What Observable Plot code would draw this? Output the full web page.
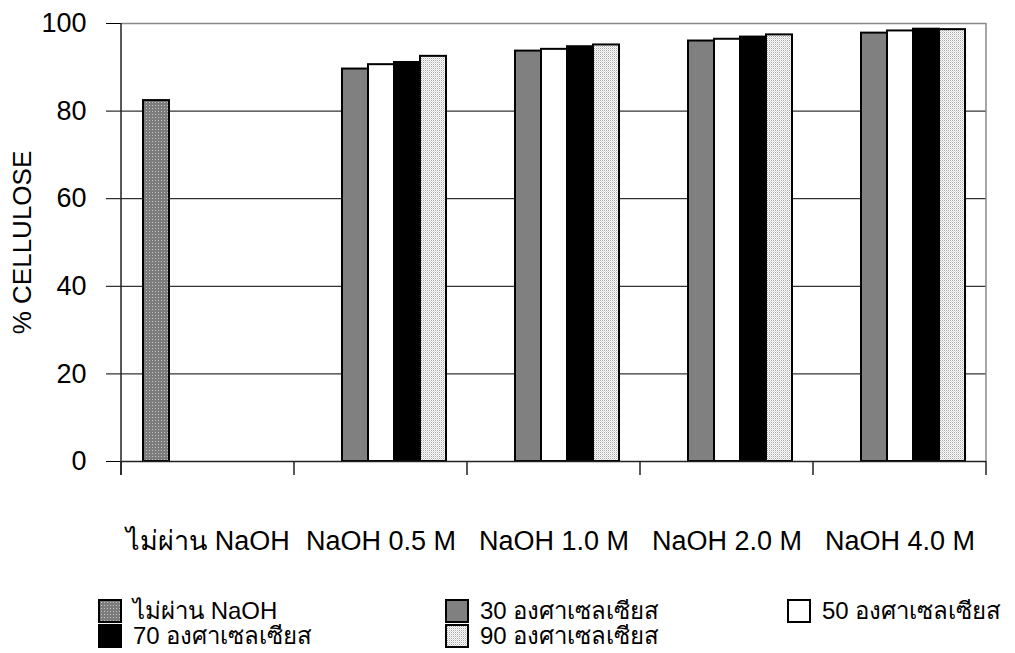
<!DOCTYPE html>
<html>
<head>
<meta charset="utf-8">
<script src="https://cdn.jsdelivr.net/npm/d3@7"></script>
<script src="https://cdn.jsdelivr.net/npm/@observablehq/plot@0.6"></script>
<style>
  body { margin: 0; background: #fff; font-family: "Liberation Sans", Arial, sans-serif; }
  #defs { position: absolute; width: 0; height: 0; }
  #legend {
    display: grid;
    grid-template-columns: 347px 342px auto;
    grid-auto-rows: 25px;
    padding-left: 98px;
    margin-top: 6px;
    font-size: 24px;
    color: #000;
  }
  .item { display: flex; align-items: center; white-space: nowrap; }
  .item svg { margin-right: 11px; flex: none; }
  g[aria-label="y-axis label"] text { font-size: 26px; }
</style>
</head>
<body>
<div id="chart"></div>
<div id="legend"></div>
<script>
// Treatment groups along the x axis
const categories = ["ไม่ผ่าน NaOH", "NaOH 0.5 M", "NaOH 1.0 M", "NaOH 2.0 M", "NaOH 4.0 M"];
// Series (untreated sample plus four treatment temperatures)
const series = ["ไม่ผ่าน NaOH", "30 องศาเซลเซียส", "50 องศาเซลเซียส", "70 องศาเซลเซียส", "90 องศาเซลเซียส"];
// % cellulose values
const untreated = [82.4];                    // untreated sample
const temp30 = [89.6, 93.7, 96.0, 97.8];     // NaOH 0.5, 1.0, 2.0, 4.0 M
const temp50 = [90.6, 94.1, 96.4, 98.3];
const temp70 = [91.1, 94.7, 96.9, 98.7];
const temp90 = [92.5, 95.1, 97.4, 98.6];
const yTicks = [0, 20, 40, 60, 80, 100];

// Fill for each series (patterns are defined below)
const seriesFill = ["url(#dots-dark)", "#808080", "#ffffff", "#000000", "url(#dots-light)"];
const fillOf = new Map(series.map((s, i) => [s, seriesFill[i]]));

// Long-format table for the bar mark
const rows = [{category: categories[0], series: series[0], value: untreated[0]}];
[temp30, temp50, temp70, temp90].forEach((vals, s) =>
  vals.forEach((v, i) => rows.push({category: categories[i + 1], series: series[s + 1], value: v}))
);

// Shared fill patterns
const defsSvg = d3.select("body").insert("svg", ":first-child").attr("id", "defs").attr("width", 0).attr("height", 0);
const defs = defsSvg.append("defs");
const pDark = defs.append("pattern").attr("id", "dots-dark")
  .attr("width", 3).attr("height", 3).attr("patternUnits", "userSpaceOnUse");
pDark.append("rect").attr("width", 3).attr("height", 3).attr("fill", "#7c7c7c");
pDark.append("rect").attr("width", 1).attr("height", 1).attr("fill", "#c4c4c4");
const pLight = defs.append("pattern").attr("id", "dots-light")
  .attr("width", 2).attr("height", 2).attr("patternUnits", "userSpaceOnUse");
pLight.append("rect").attr("width", 2).attr("height", 2).attr("fill", "#ffffff");
pLight.append("rect").attr("width", 1).attr("height", 1).attr("fill", "#a8a8a8");
pLight.append("rect").attr("x", 1).attr("y", 1).attr("width", 1).attr("height", 1).attr("fill", "#d8d8d8");

// Category boundary ticks, left axis line and right border, drawn per facet
const edges = Plot.ruleY(categories, {
  fx: d => d,
  y: () => 0,
  render: (index, scales, values, dimensions) => {
    const {marginLeft, marginRight, width} = dimensions;
    const y0 = scales.y(0), y1 = scales.y(100);
    const g = d3.create("svg:g");
    const l = marginLeft, r = width - marginRight;
    for (const i of index) {
      g.append("line").attr("x1", l).attr("x2", l).attr("y1", y0).attr("y2", y0 + 14)
        .attr("stroke", "#222").attr("stroke-width", 1.5);
      if (i === 0) {
        g.append("line").attr("x1", l).attr("x2", l).attr("y1", y1).attr("y2", y0 + 14)
          .attr("stroke", "#222").attr("stroke-width", 1.5);
      }
      if (i === categories.length - 1) {
        g.append("line").attr("x1", r).attr("x2", r).attr("y1", y1).attr("y2", y0)
          .attr("stroke", "#888").attr("stroke-width", 1.5);
        g.append("line").attr("x1", r).attr("x2", r).attr("y1", y0).attr("y2", y0 + 14)
          .attr("stroke", "#222").attr("stroke-width", 1.5);
      }
    }
    return g.node();
  }
});

const chart = Plot.plot({
  width: 1015,
  height: 592,
  marginLeft: 119,
  marginRight: 28,
  marginTop: 23,
  marginBottom: 131,
  style: {fontFamily: "'Liberation Sans', Arial, sans-serif", fontSize: "27px", background: "#fff", color: "#000", overflow: "visible"},
  fx: {domain: categories, padding: 0, axis: "bottom", tickSize: 0, tickPadding: 69, label: null},
  x: {domain: series, paddingInner: 0, paddingOuter: 0.715, axis: null},
  y: {domain: [0, 100], ticks: yTicks, tickSize: 15, tickPadding: 20,
      label: "% CELLULOSE", labelAnchor: "center", labelOffset: 109, labelArrow: "none"},
  color: {type: "identity"},
  marks: [
    Plot.ruleY(yTicks.slice(1, -1), {stroke: "#000", strokeWidth: 1}),
    Plot.ruleY([100], {stroke: "#888", strokeWidth: 1.5}),
    Plot.barY(rows, {fx: "category", x: "series", y: "value", fill: d => fillOf.get(d.series),
      stroke: "#000", strokeWidth: 2}),
    Plot.ruleY([0], {stroke: "#222", strokeWidth: 1.5}),
    edges
  ]
});
document.getElementById("chart").append(chart);

// Legend below the chart
const legendOrder = [0, 1, 2, 3, 4];
const legend = d3.select("#legend");
legendOrder.forEach(i => {
  const item = legend.append("div").attr("class", "item");
  const sw = item.append("svg").attr("width", 24).attr("height", 24);
  sw.append("rect").attr("x", 1).attr("y", 1).attr("width", 22).attr("height", 22)
    .attr("fill", seriesFill[i]).attr("stroke", "#000").attr("stroke-width", 2);
  item.append("span").text(series[i]);
});
</script>
</body>
</html>
